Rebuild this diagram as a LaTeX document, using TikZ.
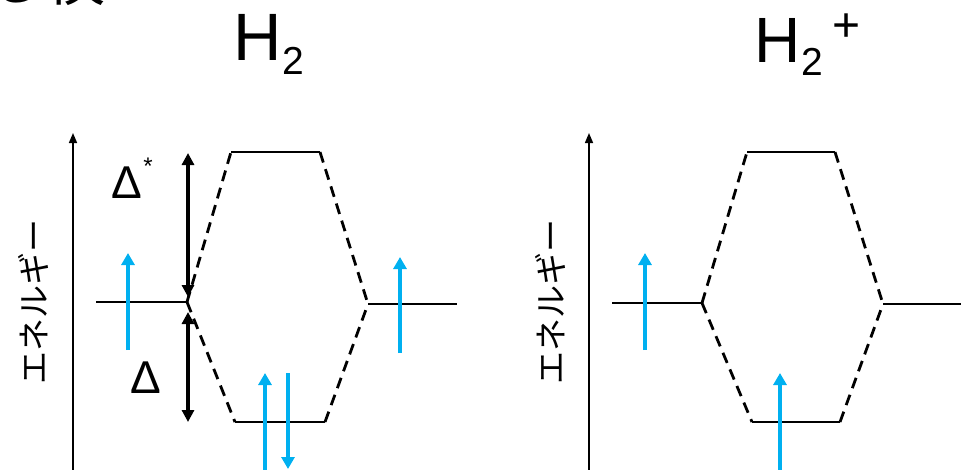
\documentclass[tikz,border=0pt]{standalone}
\usepackage{fontspec}
\setmainfont{Liberation Sans}
\newfontfamily\jpfont{Noto Sans CJK JP}
\usetikzlibrary{arrows.meta}
\definecolor{spinblue}{RGB}{0,176,240}
\begin{document}
\begin{tikzpicture}[x=1pt,y=-1pt,
  level/.style={line width=2.8pt,black},
  corr/.style={line width=2.8pt,black,dash pattern=on 11pt off 7pt},
  spin/.style={line width=4pt,spinblue,-{Triangle[width=13pt,length=12pt]}},
  gap/.style={line width=3.5pt,black,{Triangle[width=12pt,length=12pt]}-{Triangle[width=12pt,length=12pt]}},
  axis/.style={line width=1.5pt,black,-{Triangle[width=8pt,length=10pt]}},
  lbl/.style={inner sep=0pt,outer sep=0pt}]
\useasboundingbox (0,0) rectangle (961,469);
% cut-off text at the top left
\node[lbl,anchor=base west] (cut) at (-14,0) {\jpfont\fontsize{60}{60}\selectfont る検};
% ===== left panel: H2 =====
\node[lbl] (h1) at (258,37) {\fontsize{67}{67}\selectfont H};
\node[lbl] (s1) at (293,61) {\fontsize{39}{39}\selectfont 2};
\coordinate (ax1b) at (73,475);
\coordinate (ax1t) at (73,133);
\draw[axis] (ax1b) -- (ax1t);
\node[lbl,rotate=90] (e1) at (33,302) {\jpfont\fontsize{33}{33}\selectfont エネルギー};
\coordinate (aL1) at (96,302);  \coordinate (aL2) at (187,302);
\coordinate (mT1) at (231,152); \coordinate (mT2) at (320,152);
\coordinate (mB1) at (235,422); \coordinate (mB2) at (325,422);
\coordinate (aR1) at (368,304); \coordinate (aR2) at (457,304);
\draw[level] (aL1) -- (aL2);
\draw[level] (mT1) -- (mT2);
\draw[level] (mB1) -- (mB2);
\draw[level] (aR1) -- (aR2);
\draw[corr] (aL2) -- (mT1);
\draw[corr] (aL2) -- (mB1);
\draw[corr] (mT2) -- (aR1);
\draw[corr] (mB2) -- (aR1);
\coordinate (u1a) at (128,350); \coordinate (u1b) at (128,253);
\coordinate (u2a) at (400,353); \coordinate (u2b) at (400,257);
\coordinate (u3a) at (265,478); \coordinate (u3b) at (265,373);
\coordinate (d1a) at (288,373); \coordinate (d1b) at (288,469);
\draw[spin] (u1a) -- (u1b);
\draw[spin] (u2a) -- (u2b);
\draw[spin] (u3a) -- (u3b);
\draw[spin] (d1a) -- (d1b);
\coordinate (g1a) at (188,153); \coordinate (g1b) at (188,297);
\coordinate (g2a) at (188,312); \coordinate (g2b) at (188,422);
\draw[gap] (g1a) -- (g1b);
\draw[gap] (g2a) -- (g2b);
\node[lbl] (dstar) at (127,183) {\fontsize{46}{46}\selectfont Δ};
\node[lbl] (star) at (148,166) {\fontsize{24}{24}\selectfont *};
\node[lbl] (delta) at (146,378) {\fontsize{46}{46}\selectfont Δ};
% ===== right panel: H2+ =====
\node[lbl] (h2) at (778,40) {\fontsize{64}{64}\selectfont H};
\node[lbl] (s2) at (812,62) {\fontsize{39}{39}\selectfont 2};
\node[lbl] (plus) at (847,28) {\fontsize{48}{48}\selectfont +};
\coordinate (ax2b) at (589,475);
\coordinate (ax2t) at (589,133);
\draw[axis] (ax2b) -- (ax2t);
\node[lbl,rotate=90] (e2) at (550,302) {\jpfont\fontsize{33}{33}\selectfont エネルギー};
\coordinate (bL1) at (612,303); \coordinate (bL2) at (702,303);
\coordinate (nT1) at (747,152); \coordinate (nT2) at (835,152);
\coordinate (nB1) at (752,422); \coordinate (nB2) at (840,422);
\coordinate (bR1) at (883,304); \coordinate (bR2) at (965,304);
\draw[level] (bL1) -- (bL2);
\draw[level] (nT1) -- (nT2);
\draw[level] (nB1) -- (nB2);
\draw[level] (bR1) -- (bR2);
\draw[corr] (bL2) -- (nT1);
\draw[corr] (bL2) -- (nB1);
\draw[corr] (nT2) -- (bR1);
\draw[corr] (nB2) -- (bR1);
\coordinate (v1a) at (645,350); \coordinate (v1b) at (645,253);
\coordinate (v2a) at (780,478); \coordinate (v2b) at (780,373);
\draw[spin] (v1a) -- (v1b);
\draw[spin] (v2a) -- (v2b);
\end{tikzpicture}
\end{document}
